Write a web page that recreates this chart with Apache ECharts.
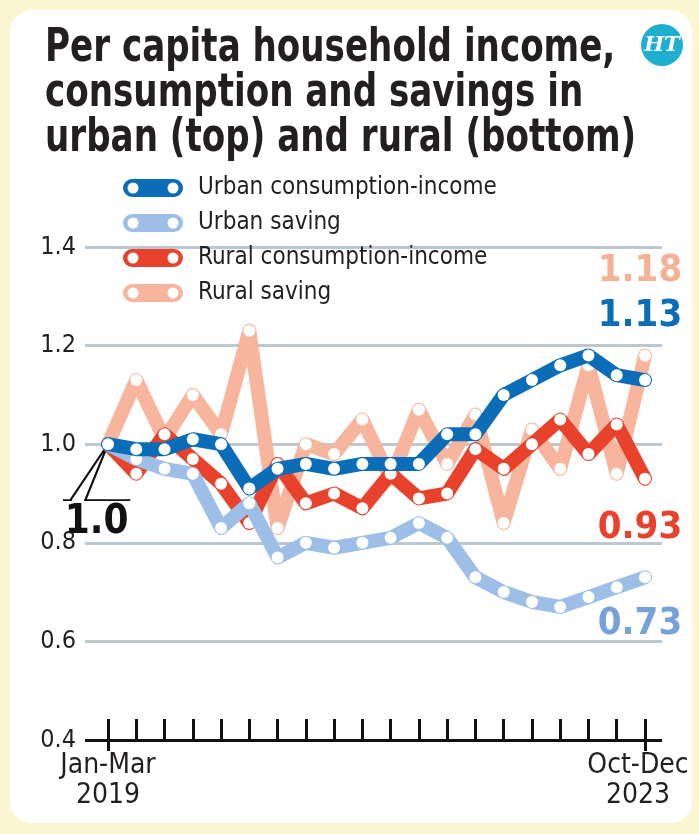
<!DOCTYPE html>
<html>
<head>
<meta charset="utf-8">
<script src="https://cdn.jsdelivr.net/npm/echarts@6/dist/echarts.min.js"></script>
<style>
html,body{margin:0;padding:0;background:#fdf6d3;}
#chart{width:699px;height:834px;}
</style>
</head>
<body>
<div id="chart"></div>
<script>
// ---- data ----
const categories = [
  'Jan-Mar 2019','Apr-Jun 2019','Jul-Sep 2019','Oct-Dec 2019',
  'Jan-Mar 2020','Apr-Jun 2020','Jul-Sep 2020','Oct-Dec 2020',
  'Jan-Mar 2021','Apr-Jun 2021','Jul-Sep 2021','Oct-Dec 2021',
  'Jan-Mar 2022','Apr-Jun 2022','Jul-Sep 2022','Oct-Dec 2022',
  'Jan-Mar 2023','Apr-Jun 2023','Jul-Sep 2023','Oct-Dec 2023'
];
const xTickLabels = [['Jan-Mar', '2019'], ['Oct-Dec', '2023']];
const yTickLabels = ['0.4', '0.6', '0.8', '1.0', '1.2', '1.4'];
const seriesNames = ['Urban consumption-income', 'Urban saving', 'Rural consumption-income', 'Rural saving'];
const urbanConsumption = [1.00, 0.99, 0.99, 1.01, 1.00, 0.91, 0.95, 0.96, 0.95, 0.96, 0.96, 0.96, 1.02, 1.02, 1.10, 1.13, 1.16, 1.18, 1.14, 1.13];
const urbanSaving      = [1.00, 0.97, 0.95, 0.94, 0.83, 0.88, 0.77, 0.80, 0.79, 0.80, 0.81, 0.84, 0.81, 0.73, 0.70, 0.68, 0.67, 0.69, 0.71, 0.73];
const ruralConsumption = [1.00, 0.94, 1.02, 0.97, 0.92, 0.84, 0.96, 0.88, 0.90, 0.87, 0.94, 0.89, 0.90, 0.99, 0.95, 1.00, 1.05, 0.98, 1.04, 0.93];
const ruralSaving      = [1.00, 1.13, 1.01, 1.10, 1.02, 1.23, 0.83, 1.00, 0.98, 1.05, 0.93, 1.07, 0.96, 1.06, 0.84, 1.03, 0.95, 1.16, 0.94, 1.18];
const baseLabel = '1.0';
const titleText = 'Per capita household income,\nconsumption and savings in\nurban (top) and rural (bottom)';

// ---- styles ----
const NARROW = "'Liberation Sans Narrow', 'DejaVu Sans Condensed', 'Roboto Condensed', 'Liberation Sans', sans-serif";
const colors = {
  uc: '#0b6db7', us: '#9dbee6', rc: '#e8412c', rs: '#f6b59c'
};
const labelColors = {
  uc: '#0b6db7', us: '#77a2d9', rc: '#e8412c', rs: '#f5b095'
};
const lastIdx = categories.length - 1;

function buildData(arr, key, pos, dist) {
  return arr.map((v, i) => {
    if (i !== lastIdx) return v;
    return {
      value: v,
      label: {
        show: true, position: pos, distance: dist, offset: [-5, 0],
        formatter: (p) => Number(p.value).toFixed(2),
        fontFamily: NARROW, fontWeight: 'bold', fontSize: 38,
        color: labelColors[key]
      }
    };
  });
}

function lineSeries(name, arr, key, z, pos, dist, extra) {
  return Object.assign({
    name: name,
    type: 'line',
    xAxisIndex: 1, yAxisIndex: 1,
    data: buildData(arr, key, pos, dist),
    z: z,
    symbol: 'circle',
    symbolSize: 12,
    showAllSymbol: true,
    color: colors[key],
    itemStyle: { color: '#ffffff', borderWidth: 0 },
    lineStyle: { width: 14, color: colors[key], cap: 'round', join: 'round' },
    emphasis: { disabled: true },
    label: { show: false }
  }, extra || {});
}

const legendIcon = 'path://M9 0H51A9 9 0 0 1 51 18H9A9 9 0 0 1 9 0Z M4.5 9A5.5 5.5 0 0 0 15.5 9A5.5 5.5 0 0 0 4.5 9Z M44.5 9A5.5 5.5 0 0 0 55.5 9A5.5 5.5 0 0 0 44.5 9Z';
const calloutPath = 'path://M45 0L7.3 56M0 56L9 56M45 0L22.3 56L67.3 56';

const chart = echarts.init(document.getElementById('chart'), null, { renderer: 'canvas' });
const option = {
  animation: false,
  backgroundColor: '#fdf6d3',
  graphic: [
    { type: 'rect', z: -10, shape: { x: 10, y: 10, width: 682, height: 813, r: 22 }, style: { fill: '#ffffff' } },
    {
      type: 'text', x: 45, y: 27, scaleX: 0.825, scaleY: 1,
      style: { text: titleText, fill: '#231f20', font: "bold 46px " + NARROW, lineHeight: 45 }
    },
    { type: 'circle', shape: { cx: 662, cy: 45, r: 21 }, style: { fill: '#1eaed0' } },
    { type: 'text', x: 662, y: 46, style: { text: 'HT', fill: '#ffffff', font: "italic bold 21px 'DejaVu Serif', serif", align: 'center', verticalAlign: 'middle' } }
  ],
  legend: {
    orient: 'vertical', left: 118, top: 170,
    icon: legendIcon, itemWidth: 60, itemHeight: 18, itemGap: 9,
    selectedMode: false,
    textStyle: { fontFamily: NARROW, fontSize: 24, lineHeight: 26, color: '#231f20', padding: [0, 0, 0, 10] },
    data: [
      { name: seriesNames[0], itemStyle: { color: colors.uc } },
      { name: seriesNames[1], itemStyle: { color: colors.us } },
      { name: seriesNames[2], itemStyle: { color: colors.rc } },
      { name: seriesNames[3], itemStyle: { color: colors.rs } }
    ]
  },
  grid: [
    { left: 85, right: 37, top: 247, bottom: 94, containLabel: false, outerBoundsMode: 'none' },
    { left: 108, right: 54, top: 247, bottom: 94, containLabel: false, outerBoundsMode: 'none' }
  ],
  xAxis: [
    { gridIndex: 0, type: 'value', min: 0, max: 1, show: false },
    {
      gridIndex: 1, type: 'category', boundaryGap: false, data: categories, position: 'bottom',
      axisLine: { show: false },
      axisTick: { show: true, inside: true, length: 21, interval: 0, lineStyle: { color: '#111', width: 3 } },
      axisLabel: {
        interval: 0, margin: 11, fontFamily: NARROW, fontSize: 28, lineHeight: 30, color: '#231f20',
        formatter: (v, i) => {
          if (i === 0) return '{a|' + xTickLabels[0][0] + '}\n{a|' + xTickLabels[0][1] + '}';
          if (i === lastIdx) return '{b|' + xTickLabels[1][0] + '}\n{b|' + xTickLabels[1][1] + '}';
          return '';
        },
        rich: {
          a: { fontFamily: NARROW, fontSize: 28, lineHeight: 30, color: '#231f20' },
          b: { fontFamily: NARROW, fontSize: 28, lineHeight: 30, color: '#231f20', padding: [0, 14, 0, 0] }
        }
      }
    },
    {
      gridIndex: 1, type: 'category', boundaryGap: false, data: categories, position: 'bottom', offset: 0,
      axisLine: { show: false },
      axisTick: { show: true, inside: false, length: 11, interval: (i) => i === 0 || i === lastIdx, lineStyle: { color: '#111', width: 3 } },
      axisLabel: { show: false }
    }
  ],
  yAxis: [
    {
      gridIndex: 0, type: 'value', min: 0.4, max: 1.4, interval: 0.2,
      axisLine: { show: false }, axisTick: { show: false },
      axisLabel: {
        margin: 9, fontFamily: NARROW, fontSize: 25, color: '#231f20',
        formatter: (v) => {
          const k = Math.round((v - 0.4) / 0.2);
          return yTickLabels[k] || '';
        }
      },
      splitLine: { show: true, lineStyle: { width: 3, color: ['#111111', '#bcc7cf', '#bcc7cf', '#bcc7cf', '#bcc7cf', '#bcc7cf'] } }
    },
    { gridIndex: 1, type: 'value', min: 0.4, max: 1.4, interval: 0.2, show: false }
  ],
  series: [
    lineSeries(seriesNames[0], urbanConsumption, 'uc', 6, 'top', 39, {
      markPoint: {
        silent: true, z: 1,
        data: [{
          coord: [0, urbanConsumption[0]],
          symbol: calloutPath, symbolSize: [67.3, 56], symbolOffset: [-11.35, 28], symbolKeepAspect: false,
          itemStyle: { color: 'none', borderColor: '#111', borderWidth: 2 },
          label: {
            show: true, position: 'inside', offset: [0, 50],
            formatter: () => baseLabel,
            fontFamily: NARROW, fontWeight: 'bold', fontSize: 40, color: '#111'
          }
        }]
      }
    }),
    lineSeries(seriesNames[1], urbanSaving, 'us', 5, 'bottom', 22),
    lineSeries(seriesNames[2], ruralConsumption, 'rc', 4, 'bottom', 24),
    lineSeries(seriesNames[3], ruralSaving, 'rs', 3, 'top', 59)
  ]
};
chart.setOption(option);
</script>
</body>
</html>
